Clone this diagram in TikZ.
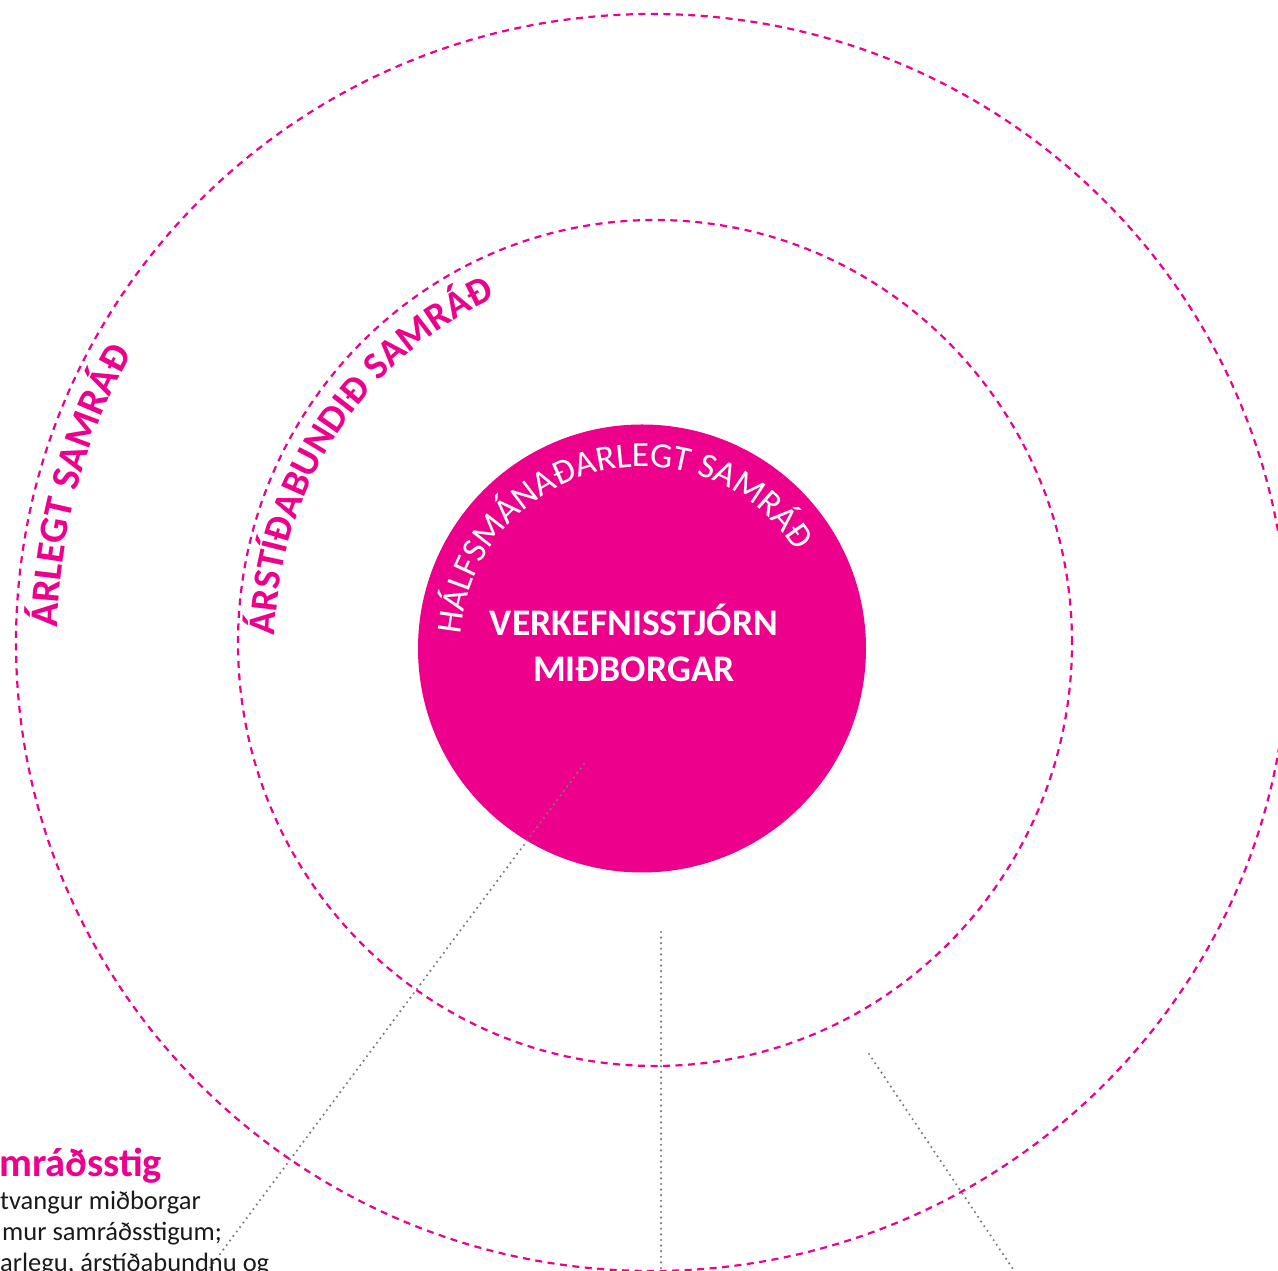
\documentclass[tikz,border=0pt]{standalone}
\usepackage{fontspec}
\setmainfont{Carlito}
\usetikzlibrary{decorations.text}
\definecolor{mag}{HTML}{EC008C}
\definecolor{dotgray}{HTML}{7A7A7A}
\definecolor{bodyblack}{HTML}{1A1A1A}
\begin{document}
\begin{tikzpicture}[x=1pt,y=1pt,
  ring/.style={draw=mag, line width=2.2pt, dash pattern=on 7pt off 5.5pt},
  leader/.style={draw=dotgray, line width=2.4pt, line cap=round, dash pattern=on 0pt off 5.6pt},
  coretitle/.style={anchor=base, inner sep=0pt, text=white, font=\fontsize{37.5pt}{37.5pt}\selectfont\bfseries},
  bodytext/.style={anchor=base west, inner sep=0pt, text=bodyblack, font=\fontsize{26.5pt}{32pt}\selectfont}]
\useasboundingbox (0,0) rectangle (1278,1271);
\clip (0,0) rectangle (1278,1271);
% centres
\coordinate (cOut) at (652,628.5);
\coordinate (cMid) at (655,628);
% filled core
\node[circle, fill=mag, minimum size=448pt, inner sep=0pt] (core) at (642,622.5) {};
% dashed rings
\draw[ring] (cOut) ellipse [x radius=636pt, y radius=628.5pt];
\draw[ring] (cMid) ellipse [x radius=417pt, y radius=423pt];
% curved labels
\path[decorate, decoration={text along path, text color=white,
  text={|\fontsize{35.5pt}{35.5pt}\selectfont|HÁLFSMÁNAÐARLEGT SAMRÁÐ}}]
  ([shift={(175.5:182pt)}]core.center) arc[start angle=175.5, end angle=0, radius=182pt];
\path[decorate, decoration={text along path, text color=mag,
  text={|\fontsize{38.5pt}{38.5pt}\selectfont\bfseries|ÁRSTÍÐABUNDIÐ SAMRÁÐ}}]
  ([shift={(178.9:380pt)}]cMid) arc[start angle=178.9, end angle=80, radius=380pt];
\path[decorate, decoration={text along path, text color=mag,
  text={|\fontsize{40pt}{40pt}\selectfont\bfseries|ÁRLEGT SAMRÁÐ}}]
  ([shift={(178.6:595pt)}]cOut) arc[start angle=178.6, end angle=120, radius=595pt];
% core title
\node[coretitle] (t1) at (634,635) {VERKEFNISSTJÓRN};
\node[coretitle] (t2) at (634,589) {MIÐBORGAR};
% leaders
\coordinate (a1) at (584,507);
\coordinate (a2) at (200,-10);
\coordinate (b1) at (661,339);
\coordinate (b2) at (661,-10);
\coordinate (c1) at (869,217);
\coordinate (c2) at (1021,-10);
\draw[leader] (a1) -- (a2);
\draw[leader] (b1) -- (b2);
\draw[leader] (c1) -- (c2);
% bottom-left text
\node[anchor=base west, inner sep=0pt, text=mag, font=\fontsize{40.5pt}{40.5pt}\selectfont\bfseries] (head) at (-1,94) {mráðsstig};
\node[bodytext] (l1) at (0,61) {tvangur miðborgar};
\node[bodytext] (l2) at (2,30) {mur samráðsstigum;};
\node[bodytext] (l3) at (0,-1) {arlegu, árstíðabundnu og};
\end{tikzpicture}
\end{document}
